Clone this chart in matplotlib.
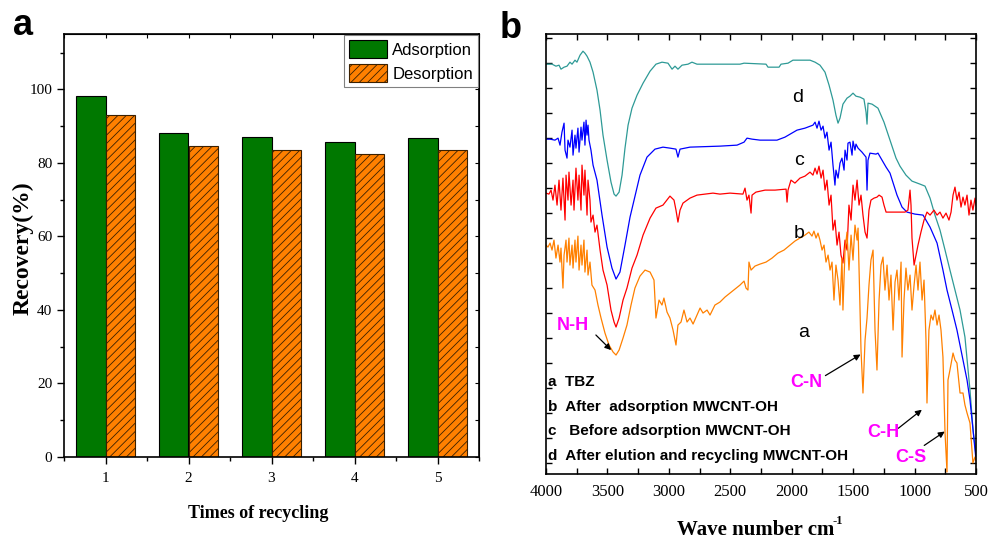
import matplotlib
matplotlib.use("Agg")
import matplotlib.pyplot as plt
from matplotlib.ticker import MultipleLocator, NullFormatter
import numpy as np

# ---------------- panel a data ----------------
cycles = [1, 2, 3, 4, 5]
adsorption = [98.1, 88.2, 87.0, 85.6, 86.9]
desorption = [93.0, 84.7, 83.6, 82.3, 83.5]

# ---------------- panel b data (wavenumber cm-1, transmittance a.u.) ----------------
d_wn = [4000, 3951, 3919, 3894, 3878, 3853, 3829, 3805, 3788, 3764, 3748, 3723, 3699, 3683, 3666, 3642,
        3617, 3585, 3560, 3536, 3503, 3471, 3446, 3430, 3405, 3381, 3357, 3332, 3300, 3259, 3210, 3153,
        3105, 3056, 3007, 2974, 2950, 2926, 2893, 2844, 2812, 2771, 2421, 2388, 2209, 2193, 2103, 2087,
        2030, 1990, 1851, 1810, 1770, 1729, 1696, 1664, 1640, 1623, 1607, 1583, 1550, 1526, 1501, 1477,
        1444, 1412, 1395, 1387, 1379, 1346, 1298, 1249, 1200, 1151, 1119, 1070, 1021, 956, 915, 874, 834,
        793, 752, 712, 671, 630, 590, 549, 524, 500]
d_t = [410, 410, 408, 409, 405, 407, 408, 412, 410, 414, 412, 419, 423, 421, 418, 412,
       402, 384, 364, 339, 314, 292, 280, 278, 282, 299, 326, 349, 366, 379, 391, 403,
       410, 412, 411, 405, 408, 405, 409, 410, 412, 410, 410, 411, 410, 407, 407, 410,
       411, 414, 414, 412, 409, 402, 389, 374, 359, 351, 356, 370, 376, 378, 381, 378,
       377, 375, 362, 350, 371, 370, 366, 352, 334, 316, 308, 299, 293, 290, 288, 276, 259,
       244, 224, 204, 184, 164, 137, 84, 44, 19]

c_wn = [4000, 3967, 3927, 3902, 3886, 3870, 3853, 3845, 3829, 3821, 3805, 3788, 3780, 3764, 3756, 3740,
        3731, 3715, 3707, 3691, 3683, 3674, 3666, 3658, 3650, 3634, 3617, 3585, 3544, 3503, 3463, 3430,
        3398, 3357, 3316, 3235, 3178, 3113, 3048, 2991, 2942, 2926, 2909, 2828, 2584, 2445, 2388, 2364,
        2323, 2258, 2120, 2055, 1957, 1892, 1827, 1810, 1794, 1778, 1761, 1745, 1729, 1713, 1696, 1680,
        1664, 1648, 1640, 1623, 1607, 1591, 1574, 1566, 1550, 1542, 1526, 1509, 1501, 1485, 1477, 1460,
        1428, 1395, 1387, 1379, 1363, 1314, 1298, 1265, 1232, 1200, 1143, 1102, 1062, 997, 931, 874,
        817, 769, 736, 695, 655, 614, 573, 549, 524, 500]
c_t = [335, 335, 334, 336, 329, 342, 351, 324, 316, 334, 327, 344, 319, 339, 326, 346,
       322, 347, 334, 352, 329, 354, 339, 349, 334, 324, 309, 294, 259, 227, 206, 195,
       202, 229, 257, 299, 317, 325, 327, 326, 325, 317, 325, 327, 328, 329, 332, 336,
       335, 334, 334, 337, 344, 346, 349, 352, 346, 353, 344, 348, 336, 342, 324, 332,
       309, 289, 304, 296, 311, 316, 304, 324, 314, 331, 332, 319, 333, 324, 330, 326,
       322, 317, 284, 314, 321, 320, 321, 314, 307, 301, 279, 267, 262, 260, 259, 247,
       231, 204, 184, 164, 144, 119, 94, 74, 44, 14]

b_wn = [4000, 3976, 3959, 3943, 3927, 3910, 3894, 3878, 3862, 3845, 3837, 3821, 3813, 3796, 3780, 3772,
        3756, 3740, 3731, 3715, 3707, 3691, 3683, 3666, 3658, 3642, 3634, 3617, 3601, 3585, 3560, 3536,
        3503, 3471, 3446, 3430, 3405, 3373, 3341, 3300, 3259, 3210, 3153, 3105, 3048, 2991, 2958, 2942,
        2926, 2909, 2885, 2828, 2771, 2706, 2641, 2584, 2502, 2397, 2380, 2364, 2348, 2339, 2331, 2323,
        2291, 2217, 2136, 2046, 2038, 2030, 2006, 1974, 1933, 1892, 1851, 1827, 1810, 1794, 1778, 1761,
        1745, 1729, 1713, 1696, 1680, 1664, 1648, 1631, 1615, 1599, 1583, 1566, 1550, 1534, 1517, 1501,
        1485, 1468, 1452, 1436, 1420, 1403, 1387, 1371, 1355, 1330, 1306, 1289, 1265, 1249, 1232, 1159,
        1078, 1054, 1037, 1029, 1021, 1004, 988, 972, 948, 923, 899, 874, 842, 817, 793, 769, 744, 720,
        703, 687, 671, 655, 638, 622, 606, 590, 573, 557, 541, 525, 508, 500]
b_t = [281, 280, 284, 274, 289, 269, 294, 264, 296, 254, 299, 274, 302, 269, 294, 264,
       306, 274, 299, 264, 309, 279, 304, 259, 294, 274, 252, 259, 242, 249, 224, 204,
       189, 164, 152, 147, 156, 174, 186, 206, 219, 239, 256, 266, 269, 278, 274, 264,
       252, 264, 271, 276, 279, 280, 281, 280, 281, 280, 286, 274, 279, 269, 261, 279,
       282, 284, 284, 285, 272, 284, 294, 291, 296, 298, 302, 299, 306, 300, 308, 296,
       304, 284, 294, 269, 279, 244, 254, 229, 242, 219, 211, 234, 224, 269, 254, 289,
       274, 294, 269, 279, 259, 242, 236, 264, 274, 276, 277, 279, 277, 269, 262, 262,
       262, 264, 284, 269, 236, 209, 219, 229, 242, 254, 262, 259, 264, 259, 262, 256, 261, 254,
       262, 279, 287, 274, 282, 267, 277, 269, 279, 259, 274, 264, 276, 269]

a_wn = [4000, 3984, 3967, 3951, 3935, 3919, 3902, 3886, 3878, 3862, 3853, 3837, 3829, 3813, 3805, 3788,
        3780, 3764, 3756, 3740, 3731, 3715, 3707, 3691, 3683, 3666, 3658, 3642, 3626, 3601, 3577, 3552,
        3520, 3487, 3454, 3430, 3405, 3373, 3341, 3308, 3276, 3235, 3194, 3153, 3121, 3105, 3080, 3056,
        3040, 3015, 2991, 2966, 2942, 2926, 2901, 2877, 2852, 2828, 2803, 2771, 2746, 2722, 2689, 2665,
        2625, 2584, 2543, 2502, 2462, 2421, 2388, 2372, 2356, 2348, 2331, 2299, 2258, 2209, 2160, 2112,
        2063, 2014, 1974, 1933, 1892, 1860, 1835, 1819, 1802, 1786, 1770, 1753, 1737, 1721, 1704, 1688,
        1672, 1656, 1640, 1623, 1607, 1591, 1583, 1566, 1550, 1534, 1517, 1501, 1485, 1468, 1460, 1444,
        1436, 1420, 1403, 1387, 1371, 1355, 1338, 1322, 1306, 1289, 1273, 1257, 1241, 1224, 1208, 1192,
        1175, 1159, 1143, 1127, 1110, 1102, 1086, 1070, 1054, 1037, 1021, 1004, 988, 972, 956, 939,
        923, 907, 899, 883, 866, 850, 834, 817, 801, 785, 769, 752, 736, 728, 712, 687, 671, 655,
        630, 606, 590, 573, 549, 525, 508, 500]
a_t = [229, 227, 231, 224, 234, 216, 229, 212, 226, 186, 219, 234, 212, 236, 209, 229,
       206, 234, 212, 238, 204, 229, 209, 234, 202, 224, 199, 212, 189, 184, 169, 156,
       141, 129, 122, 119, 124, 136, 149, 169, 186, 198, 204, 202, 194, 156, 174, 169,
       176, 162, 156, 144, 129, 149, 152, 164, 152, 156, 150, 159, 166, 161, 164, 159,
       169, 172, 177, 181, 185, 189, 193, 186, 184, 212, 204, 208, 210, 212, 216, 221,
       224, 229, 233, 236, 239, 242, 238, 243, 236, 241, 234, 224, 229, 212, 219, 204,
       212, 174, 209, 194, 169, 216, 164, 224, 242, 204, 239, 214, 249, 234, 246, 164,
       124, 81, 134, 156, 189, 214, 224, 144, 104, 174, 209, 217, 184, 209, 174, 199,
       144, 192, 204, 174, 212, 117, 174, 206, 184, 199, 164, 189, 209, 184, 212, 174,
       194, 134, 71, 144, 159, 154, 164, 149, 159, 144, 117, 41, 2, 94, 104, 121, 114, 111,
       81, 81, 69, 61, 51, 11, 17, 14]

curve_labels = ["a", "b", "c", "d"]
legend_lines = ["a  TBZ", "b  After  adsorption MWCNT-OH",
                "c   Before adsorption MWCNT-OH", "d  After elution and recycling MWCNT-OH"]
bond_labels = ["N-H", "C-N", "C-H", "C-S"]

SERIF = ["Liberation Serif", "DejaVu Serif"]
SANS = ["Liberation Sans", "DejaVu Sans"]
NARROW = ["Liberation Sans Narrow", "Liberation Sans", "DejaVu Sans"]

fig = plt.figure(figsize=(10.0, 5.47), dpi=100)

# ================= panel a =================
axa = fig.add_axes([0.064, 0.1645, 0.415, 0.773])
w = 0.35
x = np.array(cycles, dtype=float)
plt.rcParams['hatch.linewidth'] = 0.6
axa.bar(x - w / 2, adsorption, width=w, color="#007800", edgecolor="black", linewidth=0.8,
        label="Adsorption", zorder=2)
axa.bar(x + w / 2, desorption, width=w, color="#ff8000", edgecolor="#3a2000", linewidth=0.8,
        hatch="////", label="Desorption", zorder=2)
axa.set_xlim(0.5, 5.5)
axa.set_ylim(0, 115)
axa.set_xticks(cycles)
axa.set_xticks(np.arange(0.5, 5.6, 1.0), minor=True)
axa.set_yticks([0, 20, 40, 60, 80, 100])
axa.yaxis.set_minor_locator(MultipleLocator(10))
axa.tick_params(axis="both", which="major", direction="out", length=5, width=1, labelsize=11)
axa.tick_params(axis="x", which="major", pad=6)
axa.tick_params(axis="both", which="minor", direction="out", length=3, width=1)
for lab in axa.get_xticklabels() + axa.get_yticklabels():
    lab.set_fontfamily(SERIF)
for s in axa.spines.values():
    s.set_linewidth(1.2)
sx = axa.secondary_xaxis("top")
sx.set_xticks(np.arange(0.5, 5.6, 0.5))
sx.tick_params(direction="in", length=3, labeltop=False)
sx.xaxis.set_major_formatter(NullFormatter())
sy = axa.secondary_yaxis("right")
sy.set_yticks(np.arange(0, 115, 10))
sy.tick_params(direction="in", length=3, labelright=False)
sy.yaxis.set_major_formatter(NullFormatter())

axa.set_ylabel("Recovery(%)", fontsize=17, fontweight="bold", family=SERIF)
axa.yaxis.set_label_coords(-0.074, 0.494)
axa.set_xlabel("Times of recycling", fontsize=13, fontweight="bold", family=SERIF)
axa.xaxis.set_label_coords(0.467, -0.113)

leg = axa.legend(loc="upper right", bbox_to_anchor=(1.0, 1.0), fancybox=False, framealpha=1,
                 edgecolor="#808080", prop={"family": NARROW, "size": 12},
                 handlelength=2.3, handleheight=1.3, borderpad=0.3, labelspacing=0.35,
                 handletextpad=0.3, borderaxespad=0.05)
leg.get_frame().set_linewidth(0.8)

fig.text(0.013, 0.936, "a", fontsize=26, fontweight="bold", family=SANS, va="baseline")

# ================= panel b =================
axb = fig.add_axes([0.546, 0.1335, 0.430, 0.804])
lw = 0.9
axb.plot(d_wn, d_t, color="#2e9a96", lw=lw)
axb.plot(c_wn, c_t, color="#0000ff", lw=lw)
axb.plot(b_wn, b_t, color="#ff0000", lw=lw)
axb.plot(a_wn, a_t, color="#ff8000", lw=lw)
axb.set_xlim(4000, 500)
axb.set_ylim(0, 440)
axb.set_xticks(np.arange(4000, 499, -500))
axb.xaxis.set_minor_locator(MultipleLocator(250))
axb.set_yticks(np.arange(11, 440, 25))
axb.tick_params(axis="both", which="both", direction="in", top=True, right=True, length=4, width=1)
axb.tick_params(axis="y", labelleft=False)
axb.tick_params(axis="x", labelsize=12, pad=7)
for lab in axb.get_xticklabels():
    lab.set_fontfamily(SERIF)
for s in axb.spines.values():
    s.set_linewidth(1.2)
axb.set_xlabel("Wave number cm", fontsize=15, fontweight="bold", family=SERIF)
axb.xaxis.set_label_coords(0.488, -0.105)
axb.text(0.667, -0.108, "-1", transform=axb.transAxes, fontsize=9, fontweight="bold",
         family=SERIF, ha="left", va="center")

# curve letters
lab_pos = {"d": (1955, 377), "c": (1940, 314), "b": (1940, 241), "a": (1900, 142)}
for k in curve_labels:
    xx, yy = lab_pos[k]
    axb.text(xx, yy, k, fontsize=14, family=SANS, ha="center", va="center")

# legend text block
leg_y = [92, 67, 43, 18]
for txt, yy in zip(legend_lines, leg_y):
    axb.text(3985, yy, txt, fontsize=11, fontweight="bold", family=NARROW, ha="left", va="center")

# bond annotations
arrow = dict(arrowstyle="-|>", color="black", lw=0.9, mutation_scale=9)
axb.annotate("", xy=(3454, 122), xytext=(3610, 141), arrowprops=arrow)
axb.text(3780, 149, bond_labels[0], fontsize=13, fontweight="bold", color="#ff00ff",
         family=NARROW, ha="center", va="center")
axb.annotate("", xy=(1420, 121), xytext=(1745, 97), arrowprops=arrow)
axb.text(1885, 92, bond_labels[1], fontsize=13, fontweight="bold", color="#ff00ff",
         family=NARROW, ha="center", va="center")
axb.annotate("", xy=(923, 66), xytext=(1150, 44), arrowprops=arrow)
axb.text(1255, 41, bond_labels[2], fontsize=13, fontweight="bold", color="#ff00ff",
         family=NARROW, ha="center", va="center")
axb.annotate("", xy=(736, 44), xytext=(940, 27), arrowprops=arrow)
axb.text(1030, 16, bond_labels[3], fontsize=13, fontweight="bold", color="#ff00ff",
         family=NARROW, ha="center", va="center")

fig.text(0.500, 0.930, "b", fontsize=26, fontweight="bold", family=SANS, va="baseline")

fig.savefig("out.png", dpi=100)
